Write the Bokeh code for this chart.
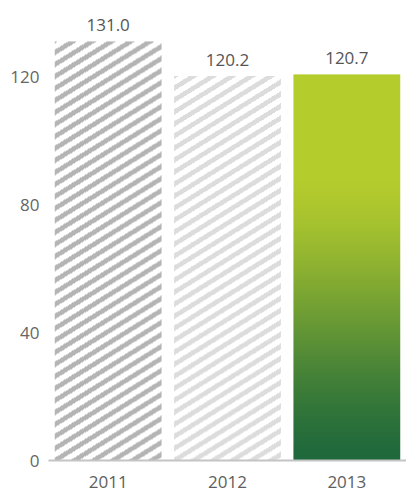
import numpy as np
from bokeh.plotting import figure
from bokeh.models import Range1d, FixedTicker, ColumnDataSource
from bokeh.embed import file_html
from bokeh.resources import INLINE
from bokeh.core.properties import value

# ---- data ----
years = ["2011", "2012", "2013"]
values = [131.0, 120.2, 120.7]
value_labels = ["131.0", "120.2", "120.7"]
y_ticks = [0, 40, 80, 120]

# ---- style ----
FONT = "Open Sans"
stripe_colors = [(180, 180, 180), (220, 220, 220)]
grad_dark = np.array([30, 104, 60], dtype=float)
grad_lime = np.array([181, 204, 45], dtype=float)

W, H = 406, 491
LEFT, BOTTOM = 48, 31
Y_END = 143.8
p = figure(width=W, height=H, output_backend="svg", toolbar_location=None,
           x_range=Range1d(0, 3), y_range=Range1d(0, Y_END),
           min_border_left=LEFT, min_border_right=0, min_border_top=0,
           min_border_bottom=BOTTOM)
p.outline_line_color = None
p.grid.visible = False
p.background_fill_color = "white"
p.border_fill_color = "white"

xs = [i + 0.5 for i in range(len(years))]
bw = 0.895
src = ColumnDataSource(dict(x=xs, top=values, label=value_labels))
p.vbar(x="x", top="top", width=bw, source=src, fill_color="white", line_color=None)

px_per_unit = (H - BOTTOM) / Y_END
bar_px_w = int(round(bw * (W - LEFT) / 3))


def rgba_image(h, w):
    img = np.zeros((h, w), dtype=np.uint32)
    view = img.view(dtype=np.uint8).reshape((h, w, 4))
    return img, view


# striped bars (2011, 2012)
for i in range(2):
    h = int(round(values[i] * px_per_unit))
    w = bar_px_w
    img, view = rgba_image(h, w)
    yy, xx = np.mgrid[0:h, 0:w]
    phase = (yy - xx * np.tan(np.radians(32)) + 3) % 12
    mask = phase < 5.5
    r, g, b = stripe_colors[i]
    view[..., 0] = np.where(mask, r, 255)
    view[..., 1] = np.where(mask, g, 255)
    view[..., 2] = np.where(mask, b, 255)
    view[..., 3] = 255
    p.image_rgba(image=[img], x=xs[i] - bw / 2, y=0, dw=bw, dh=values[i])

# gradient bar (2013)
gh = 300
img, view = rgba_image(gh, 1)
t = (np.arange(gh) + 0.5) / gh
u = np.clip(t / 0.72, 0, 1)
s = 0.5 * u + 0.5 * (3 * u ** 2 - 2 * u ** 3)
cols = grad_dark[None, :] + (grad_lime - grad_dark)[None, :] * s[:, None]
view[:, 0, 0] = cols[:, 0].astype(np.uint8)
view[:, 0, 1] = cols[:, 1].astype(np.uint8)
view[:, 0, 2] = cols[:, 2].astype(np.uint8)
view[:, 0, 3] = 255
p.image_rgba(image=[img], x=xs[2] - bw / 2, y=0, dw=bw, dh=values[2])

# value labels
p.text(x="x", y="top", text="label", source=src, text_align="center",
       text_baseline="alphabetic", y_offset=-16, text_font=value(FONT),
       text_font_size="17px", text_color="#555555")

# axes
p.yaxis.ticker = FixedTicker(ticks=y_ticks)
p.yaxis.axis_line_color = None
p.yaxis.major_tick_line_color = None
p.yaxis.minor_tick_line_color = None
p.yaxis.major_label_text_font = FONT
p.yaxis.major_label_text_font_size = "17px"
p.yaxis.major_label_text_color = "#666666"
p.yaxis.major_label_standoff = 3

p.xaxis.ticker = FixedTicker(ticks=xs)
p.xaxis.major_label_overrides = {x: y for x, y in zip(xs, years)}
p.xaxis.axis_line_color = "#c4c4c4"
p.xaxis.axis_line_width = 2
p.xaxis.major_tick_line_color = None
p.xaxis.minor_tick_line_color = None
p.xaxis.major_label_text_font = FONT
p.xaxis.major_label_text_font_size = "17px"
p.xaxis.major_label_text_color = "#5e5e5e"
p.xaxis.major_label_standoff = 9

open("out.html", "w").write(file_html(p, INLINE))
